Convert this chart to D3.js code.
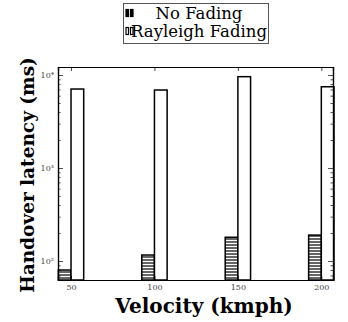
<!DOCTYPE html>
<html>
<head>
<meta charset="utf-8">
<script src="https://cdn.jsdelivr.net/npm/d3@7"></script>
<style>
  body { margin: 0; background: #fff; }
  svg { display: block; }
  text { font-family: "DejaVu Serif", "Liberation Serif", serif; }
  .tick text { fill: #444; }
</style>
</head>
<body>
<div id="chart"></div>
<script>
// chart values
const velocities = [50, 100, 150, 200];
const noFading = [80, 116, 180, 190];
const rayleighFading = [7070, 6900, 9600, 7480];
const seriesNames = ['No Fading', 'Rayleigh Fading'];
const yTickValues = [100, 1000, 10000];

const W = 348, H = 322;
const margin = { top: 67, right: 15, bottom: 42, left: 58 };
const width = W - margin.left - margin.right;
const height = H - margin.top - margin.bottom;
const barW = 7.6;
const serif = '"DejaVu Serif", "Liberation Serif", serif';

const svg = d3.select('#chart').append('svg')
  .attr('width', W)
  .attr('height', H);

const defs = svg.append('defs');
const pat = defs.append('pattern')
  .attr('id', 'hatch')
  .attr('patternUnits', 'userSpaceOnUse')
  .attr('width', 6)
  .attr('height', 3);
pat.append('rect').attr('width', 6).attr('height', 3).attr('fill', '#fff');
pat.append('line')
  .attr('x1', 0).attr('x2', 6).attr('y1', 1).attr('y2', 1)
  .attr('stroke', '#000').attr('stroke-width', 1.2);

const g = svg.append('g')
  .attr('transform', `translate(${margin.left},${margin.top})`);

const x = d3.scaleLinear().domain([42.2, 207]).range([0, width]);
const y = d3.scaleLog().domain([62.5, 12200]).range([height, 0]);

// bars
g.selectAll('.nf')
  .data(velocities)
  .enter().append('rect')
  .attr('class', 'nf')
  .attr('x', d => x(d - barW))
  .attr('y', (d, i) => y(noFading[i]))
  .attr('width', x(barW) - x(0))
  .attr('height', (d, i) => height - y(noFading[i]))
  .attr('fill', 'url(#hatch)')
  .attr('stroke', '#000')
  .attr('stroke-width', 1.5);

g.selectAll('.rf')
  .data(velocities)
  .enter().append('rect')
  .attr('class', 'rf')
  .attr('x', d => x(d))
  .attr('y', (d, i) => y(rayleighFading[i]))
  .attr('width', x(barW) - x(0))
  .attr('height', (d, i) => height - y(rayleighFading[i]))
  .attr('fill', '#fff')
  .attr('stroke', '#000')
  .attr('stroke-width', 1.5);

// minor ticks for log axis
const minor = [];
for (let e = 1; e <= 4; e++) {
  for (let k = 2; k <= 9; k++) {
    const v = k * Math.pow(10, e);
    if (v >= y.domain()[0] && v <= y.domain()[1]) minor.push(v);
  }
}

const supers = { 2: '²', 3: '³', 4: '⁴' };
const fmtY = d => '10' + supers[Math.round(Math.log10(d))];

// left axis
const yl = g.append('g')
  .call(d3.axisLeft(y).tickValues(yTickValues).tickSize(-5).tickPadding(4).tickFormat(fmtY));
yl.selectAll('text').style('font-size', '8px');
g.append('g')
  .call(d3.axisLeft(y).tickValues(minor).tickSize(-2.5).tickFormat(''));

// right axis
g.append('g')
  .attr('transform', `translate(${width},0)`)
  .call(d3.axisRight(y).tickValues(yTickValues).tickSize(-5).tickFormat(''));
g.append('g')
  .attr('transform', `translate(${width},0)`)
  .call(d3.axisRight(y).tickValues(minor).tickSize(-2.5).tickFormat(''));

// bottom axis
const xb = g.append('g')
  .attr('transform', `translate(0,${height})`)
  .call(d3.axisBottom(x).tickValues(velocities).tickSize(-4).tickPadding(4).tickFormat(d3.format('d')));
xb.selectAll('text').style('font-size', '8px');

// top axis
g.append('g')
  .call(d3.axisTop(x).tickValues(velocities).tickSize(-4).tickFormat(''));

g.selectAll('.domain').attr('stroke', '#000').attr('stroke-width', 1.2);
g.selectAll('.tick line').attr('stroke', '#000').attr('stroke-width', 0.7);
g.selectAll('.tick text').style('font-family', serif);

// axis titles
svg.append('text')
  .attr('x', 204)
  .attr('y', 313)
  .attr('text-anchor', 'middle')
  .style('font-family', serif)
  .style('font-weight', 'bold')
  .style('font-size', '20px')
  .text('Velocity (kmph)');

svg.append('text')
  .attr('transform', 'translate(34,175) rotate(-90)')
  .attr('text-anchor', 'middle')
  .style('font-family', serif)
  .style('font-weight', 'bold')
  .style('font-size', '18.5px')
  .text('Handover latency (ms)');

// legend
const lg = svg.append('g');
lg.append('rect')
  .attr('x', 123.5).attr('y', 3.5)
  .attr('width', 145).attr('height', 40)
  .attr('fill', '#fff')
  .attr('stroke', '#555')
  .attr('stroke-width', 1);

const legendRows = lg.selectAll('.row')
  .data(seriesNames)
  .enter().append('g')
  .attr('transform', (d, i) => `translate(0,${i * 18})`);

legendRows.each(function (d, i) {
  const row = d3.select(this);
  [0, 4.5].forEach(dx => {
    row.append('rect')
      .attr('x', 126 + dx).attr('y', 9.5)
      .attr('width', 2.5).attr('height', 7)
      .attr('fill', i === 0 ? '#000' : '#fff')
      .attr('stroke', '#000')
      .attr('stroke-width', 1.2);
  });
});

legendRows.append('text')
  .attr('x', 199)
  .attr('y', 19)
  .attr('text-anchor', 'middle')
  .style('font-family', serif)
  .style('font-size', '16.5px')
  .text(d => d);
</script>
</body>
</html>
